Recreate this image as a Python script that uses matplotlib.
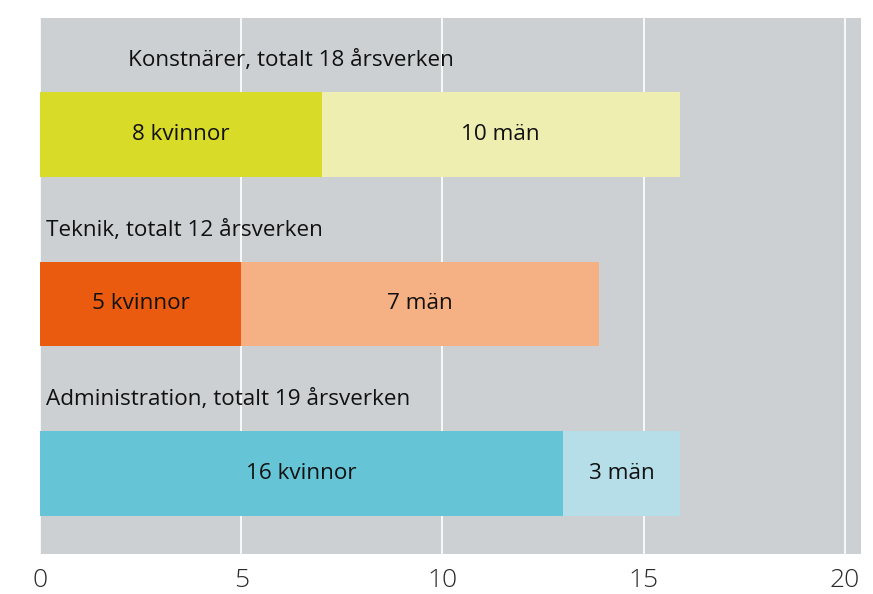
import matplotlib
matplotlib.use("Agg")
import matplotlib.pyplot as plt

categories = ["Konstnärer", "Teknik", "Administration"]
group_titles = ["Konstnärer, totalt 18 årsverken", "Teknik, totalt 12 årsverken",
                "Administration, totalt 19 årsverken"]
women_bar = [7, 5, 13]
men_bar = [8.9, 8.9, 2.9]
women_labels = ["8 kvinnor", "5 kvinnor", "16 kvinnor"]
men_labels = ["10 män", "7 män", "3 män"]
women_colors = ["#d8db28", "#ea5b0f", "#66c4d7"]
men_colors = ["#eeeeb1", "#f5b184", "#b5dee8"]
xticks = [0, 5, 10, 15, 20]
title_x = [2.19, 0.15, 0.15]

plt.rcParams['font.family'] = ['Open Sans', 'DejaVu Sans']

fig = plt.figure(figsize=(8.73, 5.94), dpi=100)
W, H = 873, 594
ax = fig.add_axes([40 / W, 1 - 554 / H, 821 / W, 536 / H])
ax.set_facecolor("#cdd0d3")

ypos = list(range(len(categories)))
ax.barh(ypos, women_bar, height=0.5, color=women_colors, zorder=3)
ax.barh(ypos, men_bar, left=women_bar, height=0.5, color=men_colors, zorder=3)

fs = 16.2
for i in ypos:
    ax.text(women_bar[i] / 2, i, women_labels[i], ha="center", va="center",
            fontsize=fs, color="#111111", zorder=4)
    ax.text(women_bar[i] + men_bar[i] / 2, i, men_labels[i], ha="center", va="center",
            fontsize=fs, color="#111111", zorder=4)
    ax.text(title_x[i], i - 0.435, group_titles[i], ha="left", va="center",
            fontsize=fs, color="#111111", zorder=4)

ax.set_xlim(0, 20.4)
ax.set_ylim(2.475, -0.687)
ax.set_xticks(xticks)
ax.set_xticklabels([str(t) for t in xticks], fontsize=19, color="#2a2a2a", fontweight="light")
ax.set_yticks([])
ax.tick_params(axis="x", length=0, pad=10)
ax.grid(axis="x", color="white", linewidth=1.2, zorder=1)
for s in ax.spines.values():
    s.set_visible(False)

fig.savefig("out.png", dpi=100)
